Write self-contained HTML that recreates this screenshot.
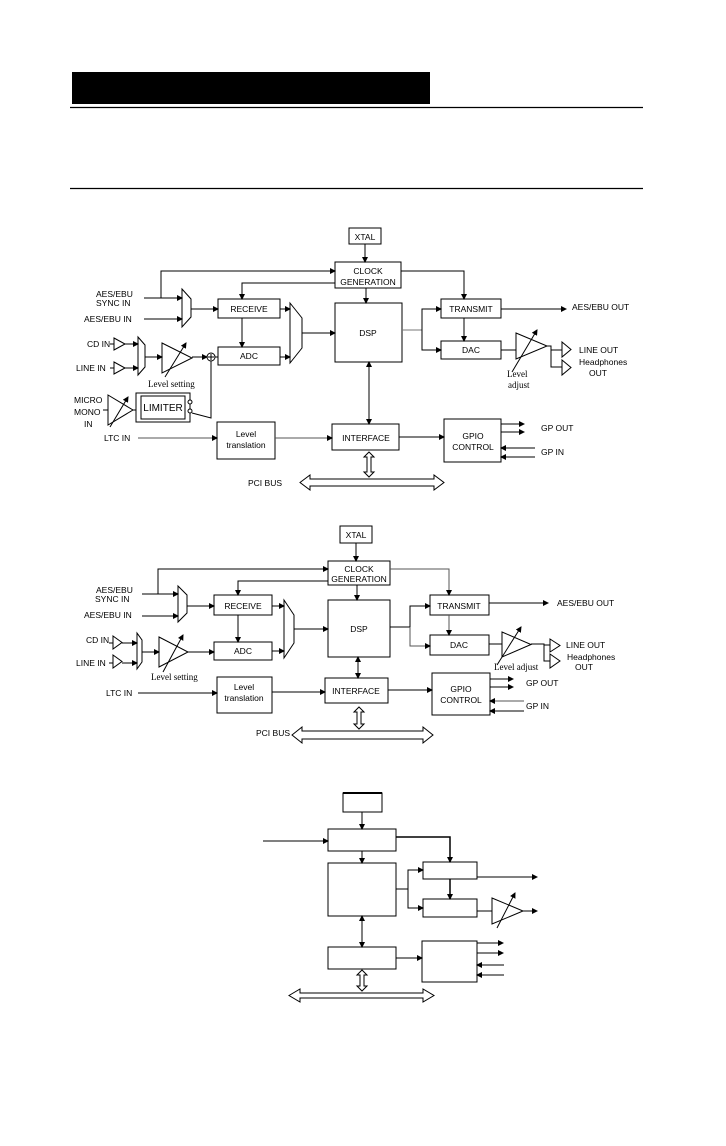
<!DOCTYPE html>
<html><head><meta charset="utf-8"><style>
html,body{margin:0;padding:0;background:#fff;}
svg{display:block;}
text{font-family:"Liberation Sans",sans-serif;font-size:8.5px;fill:#000;}
.s{font-family:"Liberation Serif",serif;font-size:9px;}
</style></head><body>
<svg width="726" height="1146" viewBox="0 0 726 1146" xmlns="http://www.w3.org/2000/svg">
<defs>
<marker id="a" markerWidth="6" markerHeight="6" refX="5" refY="3" orient="auto" markerUnits="userSpaceOnUse"><path d="M0,0 L6,3 L0,6 z" fill="#000"/></marker>
<marker id="b" markerWidth="6" markerHeight="6" refX="1" refY="3" orient="auto" markerUnits="userSpaceOnUse"><path d="M6,0 L0,3 L6,6 z" fill="#000"/></marker>
</defs>
<rect x="72" y="72" width="358" height="32" fill="#000"/>
<line x1="70" y1="107.5" x2="643" y2="107.5" stroke="#000" stroke-width="1.3"/>
<line x1="70" y1="188.5" x2="643" y2="188.5" stroke="#000" stroke-width="1.3"/>

<g fill="#fff" stroke="#000" stroke-width="1">
<!-- Diagram 1 -->
<rect x="349" y="228" width="32" height="16"/>
<rect x="335" y="262" width="66" height="26"/>
<rect x="335" y="303" width="67" height="59"/>
<rect x="218" y="299" width="62" height="19"/>
<rect x="218" y="347" width="62" height="18"/>
<rect x="441" y="299" width="60" height="19"/>
<rect x="441" y="341" width="60" height="18"/>
<rect x="332" y="424" width="67" height="26"/>
<rect x="217" y="422" width="58" height="37"/>
<rect x="444" y="419" width="57" height="43"/>
<rect x="136" y="393" width="54" height="29"/>
<rect x="141" y="396" width="44" height="23"/>
<polygon points="182,289 191,299 191,317 182,327"/>
<polygon points="290,303 302,318 302,348 290,363"/>
<polygon points="138,337 145,345 145,367 138,375"/>
<polygon points="162,343 192,358 162,373"/>
<circle cx="211" cy="357" r="4"/>
<polygon points="516,333 547,346 516,359"/>
<polygon points="562,342 571,349.5 562,357"/>
<polygon points="562,360 571,367.5 562,375"/>
<polygon points="114,338 125,344 114,350"/>
<polygon points="114,362 125,368 114,374"/>
<polygon points="108,395 133,410 108,425"/>
<circle cx="190" cy="402" r="2"/><circle cx="190" cy="411" r="2"/>
<polygon points="300,482.5 310,475 310,479 434,479 434,475 444,482.5 434,490 434,486 310,486 310,490"/>
<polygon points="369,452 374,457 371,457 371,472 374,472 369,477 364,472 367,472 367,457 364,457"/>
</g>
<g stroke="#000" stroke-width="1" fill="none">
<line x1="365" y1="244" x2="365" y2="262" marker-end="url(#a)"/>
<line x1="144" y1="298" x2="182" y2="298" marker-end="url(#a)"/>
<polyline points="161,298 161,271 335,271" marker-end="url(#a)"/>
<line x1="144" y1="319" x2="182" y2="319" marker-end="url(#a)"/>
<line x1="191" y1="309" x2="218" y2="309" marker-end="url(#a)"/>
<polyline points="335,283 242,283 242,299" marker-end="url(#a)"/>
<line x1="366" y1="288" x2="366" y2="303" marker-end="url(#a)"/>
<polyline points="401,271 464,271 464,299" marker-end="url(#a)"/>
<line x1="242" y1="318" x2="242" y2="347" marker-end="url(#a)"/>
<line x1="280" y1="309" x2="290" y2="309" marker-end="url(#a)"/>
<line x1="280" y1="357" x2="290" y2="357" marker-end="url(#a)"/>
<line x1="302" y1="333" x2="335" y2="333" marker-end="url(#a)"/>
<line x1="402" y1="330" x2="422" y2="330" stroke="#777"/>
<polyline points="422,330 422,309 441,309" marker-end="url(#a)"/>
<polyline points="422,330 422,350 441,350" marker-end="url(#a)"/>
<line x1="501" y1="309" x2="566" y2="309" marker-end="url(#a)"/>
<line x1="464" y1="318" x2="464" y2="341" marker-end="url(#a)"/>
<line x1="501" y1="350" x2="516" y2="350"/>
<polyline points="547,346 551,346 551,350 562,350"/>
<polyline points="551,346 551,367 562,367"/>
<line x1="512" y1="372" x2="537" y2="330" marker-end="url(#a)"/>
<line x1="369" y1="362" x2="369" y2="424" marker-start="url(#b)" marker-end="url(#a)"/>
<line x1="138" y1="438" x2="217" y2="438" marker-end="url(#a)" stroke="#555"/>
<line x1="275" y1="438" x2="332" y2="438" marker-end="url(#a)" stroke="#555"/>
<line x1="399" y1="437" x2="444" y2="437" marker-end="url(#a)"/>
<line x1="501" y1="424" x2="524" y2="424" marker-end="url(#a)"/>
<line x1="501" y1="432" x2="524" y2="432" marker-end="url(#a)"/>
<line x1="535" y1="448" x2="501" y2="448" marker-end="url(#a)"/>
<line x1="535" y1="457" x2="501" y2="457" marker-end="url(#a)"/>
<line x1="125" y1="344" x2="138" y2="344" marker-end="url(#a)"/>
<line x1="125" y1="368" x2="138" y2="368" marker-end="url(#a)"/>
<line x1="110" y1="344" x2="114" y2="344"/><line x1="110" y1="368" x2="114" y2="368"/>
<line x1="145" y1="357" x2="162" y2="357" marker-end="url(#a)"/>
<line x1="192" y1="357" x2="207" y2="357" marker-end="url(#a)"/>
<line x1="215" y1="357" x2="218" y2="357"/>
<line x1="165" y1="377" x2="186" y2="343" marker-end="url(#a)"/>
<polyline points="211,361 211,418 192,413"/>
<line x1="133" y1="410" x2="136" y2="410"/>
<line x1="110" y1="427" x2="128" y2="397" marker-end="url(#a)"/>
<line x1="103" y1="410" x2="108" y2="410"/>
<line x1="208" y1="357" x2="214" y2="357"/><line x1="211" y1="354" x2="211" y2="360"/>
</g>
<g>
<text x="365" y="240" text-anchor="middle">XTAL</text>
<text x="368" y="274" text-anchor="middle">CLOCK</text>
<text x="368" y="285" text-anchor="middle">GENERATION</text>
<text x="368" y="336" text-anchor="middle">DSP</text>
<text x="249" y="312" text-anchor="middle">RECEIVE</text>
<text x="249" y="359" text-anchor="middle">ADC</text>
<text x="471" y="312" text-anchor="middle">TRANSMIT</text>
<text x="471" y="353" text-anchor="middle">DAC</text>
<text x="366" y="441" text-anchor="middle">INTERFACE</text>
<text x="246" y="437" text-anchor="middle">Level</text>
<text x="246" y="448" text-anchor="middle">translation</text>
<text x="473" y="439" text-anchor="middle">GPIO</text>
<text x="473" y="450" text-anchor="middle">CONTROL</text>
<text x="163" y="411" text-anchor="middle" style="font-size:10px">LIMITER</text>
<text x="96" y="297">AES/EBU</text>
<text x="96" y="306">SYNC IN</text>
<text x="84" y="322">AES/EBU IN</text>
<text x="87" y="347">CD IN</text>
<text x="76" y="371">LINE IN</text>
<text class="s" x="148" y="387">Level setting</text>
<text x="74" y="403">MICRO</text>
<text x="74" y="415">MONO</text>
<text x="84" y="427">IN</text>
<text x="104" y="441">LTC IN</text>
<text x="572" y="310">AES/EBU OUT</text>
<text x="579" y="353">LINE OUT</text>
<text x="579" y="365">Headphones</text>
<text x="589" y="376">OUT</text>
<text class="s" x="507" y="377">Level</text>
<text class="s" x="508" y="388">adjust</text>
<text x="541" y="431">GP OUT</text>
<text x="541" y="455">GP IN</text>
<text x="248" y="486">PCI BUS</text>
</g>

<!-- Diagram 2 -->
<g fill="#fff" stroke="#000" stroke-width="1">
<rect x="340" y="526" width="32" height="17"/>
<rect x="328" y="561" width="62" height="24"/>
<rect x="328" y="600" width="62" height="57"/>
<rect x="214" y="595" width="58" height="20"/>
<rect x="214" y="642" width="58" height="18"/>
<rect x="430" y="595" width="59" height="20"/>
<rect x="430" y="635" width="59" height="20"/>
<rect x="325" y="678" width="63" height="25"/>
<rect x="217" y="677" width="55" height="36"/>
<rect x="432" y="673" width="58" height="42"/>
<polygon points="178,586 187,595 187,613 178,622"/>
<polygon points="284,600 294,615 294,643 284,658"/>
<polygon points="137,633 142,640 142,662 137,669"/>
<polygon points="159,637 188,652 159,667"/>
<polygon points="502,632 531,644.5 502,657"/>
<polygon points="550,639 560,645.5 550,652"/>
<polygon points="550,654 560,661 550,668"/>
<polygon points="113,636 122,642.5 113,649"/>
<polygon points="113,655 122,661.5 113,668"/>
<polygon points="292,735 302,727 302,731 423,731 423,727 433,735 423,743 423,739 302,739 302,743"/>
<polygon points="359,707 364,712 361,712 361,724 364,724 359,729 354,724 357,724 357,712 354,712"/>
</g>
<g stroke="#000" stroke-width="1" fill="none">
<line x1="356" y1="543" x2="356" y2="561" marker-end="url(#a)"/>
<line x1="142" y1="594" x2="178" y2="594" marker-end="url(#a)"/>
<polyline points="158,594 158,569 328,569" marker-end="url(#a)"/>
<line x1="142" y1="616" x2="178" y2="616" marker-end="url(#a)"/>
<line x1="187" y1="606" x2="214" y2="606" marker-end="url(#a)"/>
<polyline points="328,581 238,581 238,595" marker-end="url(#a)"/>
<line x1="357" y1="585" x2="357" y2="600" marker-end="url(#a)"/>
<polyline points="390,569 449,569 449,595" marker-end="url(#a)" stroke="#555"/>
<line x1="238" y1="615" x2="238" y2="642" marker-end="url(#a)"/>
<line x1="272" y1="606" x2="284" y2="606" marker-end="url(#a)"/>
<line x1="272" y1="651" x2="284" y2="651" marker-end="url(#a)"/>
<line x1="294" y1="629" x2="328" y2="629" marker-end="url(#a)"/>
<line x1="390" y1="627" x2="410" y2="627"/>
<polyline points="410,627 410,606 430,606" marker-end="url(#a)"/>
<polyline points="410,627 410,646 430,646" marker-end="url(#a)" stroke="#555"/>
<line x1="489" y1="603" x2="548" y2="603" marker-end="url(#a)"/>
<line x1="449" y1="615" x2="449" y2="635" marker-end="url(#a)" stroke="#555"/>
<line x1="489" y1="644" x2="502" y2="644"/>
<polyline points="531,644 544,644 544,661 550,661"/>
<line x1="544" y1="645" x2="550" y2="645"/>
<line x1="497" y1="665" x2="521" y2="627" marker-end="url(#a)"/>
<line x1="358" y1="657" x2="358" y2="678" marker-start="url(#b)" marker-end="url(#a)"/>
<line x1="138" y1="693" x2="217" y2="693" marker-end="url(#a)"/>
<line x1="272" y1="692" x2="325" y2="692" marker-end="url(#a)"/>
<line x1="388" y1="690" x2="432" y2="690" marker-end="url(#a)"/>
<line x1="490" y1="679" x2="513" y2="679" marker-end="url(#a)"/>
<line x1="490" y1="687" x2="513" y2="687" marker-end="url(#a)"/>
<line x1="524" y1="701" x2="490" y2="701" marker-end="url(#a)" stroke="#555"/>
<line x1="524" y1="711" x2="490" y2="711" marker-end="url(#a)"/>
<line x1="122" y1="643" x2="137" y2="643" marker-end="url(#a)"/>
<line x1="122" y1="663" x2="137" y2="663" marker-end="url(#a)"/>
<line x1="109" y1="643" x2="113" y2="643"/><line x1="109" y1="663" x2="113" y2="663"/>
<line x1="142" y1="652" x2="159" y2="652" marker-end="url(#a)"/>
<line x1="188" y1="652" x2="214" y2="652" marker-end="url(#a)"/>
<line x1="163" y1="672" x2="183" y2="635" marker-end="url(#a)"/>
</g>
<g>
<text x="356" y="538" text-anchor="middle">XTAL</text>
<text x="359" y="572" text-anchor="middle">CLOCK</text>
<text x="359" y="582" text-anchor="middle">GENERATION</text>
<text x="359" y="632" text-anchor="middle">DSP</text>
<text x="243" y="609" text-anchor="middle">RECEIVE</text>
<text x="243" y="654" text-anchor="middle">ADC</text>
<text x="459" y="609" text-anchor="middle">TRANSMIT</text>
<text x="459" y="648" text-anchor="middle">DAC</text>
<text x="356" y="694" text-anchor="middle">INTERFACE</text>
<text x="244" y="690" text-anchor="middle">Level</text>
<text x="244" y="701" text-anchor="middle">translation</text>
<text x="461" y="692" text-anchor="middle">GPIO</text>
<text x="461" y="703" text-anchor="middle">CONTROL</text>
<text x="96" y="593">AES/EBU</text>
<text x="95" y="602">SYNC IN</text>
<text x="84" y="618">AES/EBU IN</text>
<text x="86" y="643">CD IN</text>
<text x="76" y="666">LINE IN</text>
<text class="s" x="151" y="680">Level setting</text>
<text x="106" y="696">LTC IN</text>
<text x="557" y="606">AES/EBU OUT</text>
<text x="566" y="648">LINE OUT</text>
<text x="567" y="660">Headphones</text>
<text x="575" y="670">OUT</text>
<text class="s" x="494" y="670">Level adjust</text>
<text x="526" y="686">GP OUT</text>
<text x="526" y="709">GP IN</text>
<text x="256" y="736">PCI BUS</text>
</g>

<!-- Diagram 3 -->
<g fill="#fff" stroke="#000" stroke-width="1">
<rect x="343" y="793" width="39" height="19"/>
<line x1="343" y1="793" x2="382" y2="793" stroke-width="2"/>
<rect x="328" y="829" width="68" height="22"/>
<rect x="328" y="863" width="68" height="53"/>
<rect x="423" y="862" width="54" height="17"/>
<rect x="423" y="899" width="54" height="18"/>
<rect x="328" y="947" width="68" height="22"/>
<rect x="422" y="941" width="55" height="41"/>
<polygon points="492,898 523,911 492,924"/>
<polygon points="289,995.5 300,989 300,993 423,993 423,989 434,995.5 423,1002 423,998 300,998 300,1002"/>
<polygon points="362,970 367,975 364,975 364,986 367,986 362,991 357,986 360,986 360,975 357,975"/>
</g>
<g stroke="#000" stroke-width="1" fill="none">
<line x1="362" y1="812" x2="362" y2="829" marker-end="url(#a)"/>
<line x1="263" y1="841" x2="328" y2="841" marker-end="url(#a)"/>
<line x1="362" y1="851" x2="362" y2="863" marker-end="url(#a)"/>
<polyline points="396,837 450,837 450,862" marker-end="url(#a)" stroke-width="1.5"/>
<line x1="450" y1="879" x2="450" y2="899" marker-end="url(#a)" stroke-width="1.5"/>
<line x1="477" y1="877" x2="537" y2="877" marker-end="url(#a)"/>
<line x1="396" y1="889" x2="408" y2="889"/>
<polyline points="408,889 408,870 423,870" marker-end="url(#a)"/>
<polyline points="408,889 408,908 423,908" marker-end="url(#a)"/>
<line x1="477" y1="911" x2="492" y2="911"/>
<line x1="523" y1="911" x2="537" y2="911" marker-end="url(#a)"/>
<line x1="497" y1="928" x2="515" y2="893" marker-end="url(#a)"/>
<line x1="362" y1="916" x2="362" y2="947" marker-start="url(#b)" marker-end="url(#a)"/>
<line x1="396" y1="958" x2="422" y2="958" marker-end="url(#a)"/>
<line x1="477" y1="943" x2="503" y2="943" marker-end="url(#a)"/>
<line x1="477" y1="953" x2="503" y2="953" marker-end="url(#a)"/>
<line x1="504" y1="965" x2="477" y2="965" marker-end="url(#a)"/>
<line x1="504" y1="975" x2="477" y2="975" marker-end="url(#a)"/>
</g>
</svg>
</body></html>
